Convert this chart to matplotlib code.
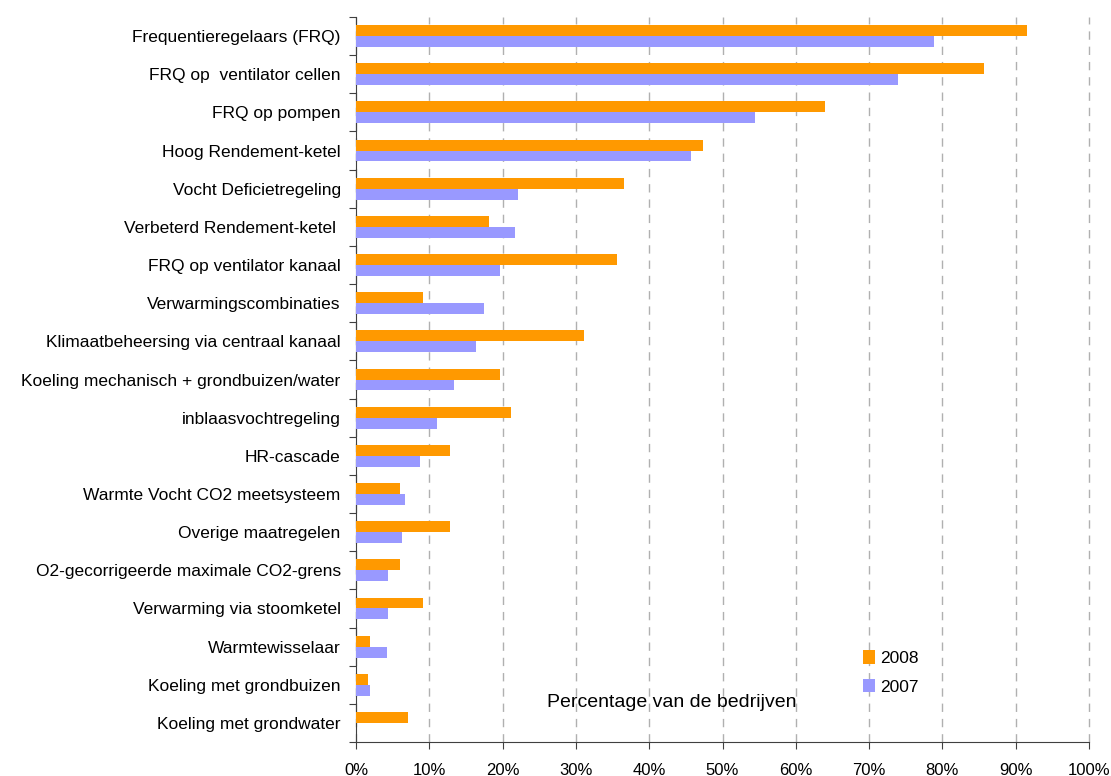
import numpy as np
import matplotlib
matplotlib.use("Agg")
import matplotlib.pyplot as plt
from matplotlib.ticker import FixedLocator, PercentFormatter

plt.rcParams['font.family'] = ['Liberation Sans', 'DejaVu Sans']

categories = [
    "Frequentieregelaars (FRQ)",
    "FRQ op  ventilator cellen",
    "FRQ op pompen",
    "Hoog Rendement-ketel",
    "Vocht Deficietregeling",
    "Verbeterd Rendement-ketel ",
    "FRQ op ventilator kanaal",
    "Verwarmingscombinaties",
    "Klimaatbeheersing via centraal kanaal",
    "Koeling mechanisch + grondbuizen/water",
    "inblaasvochtregeling",
    "HR-cascade",
    "Warmte Vocht CO2 meetsysteem",
    "Overige maatregelen",
    "O2-gecorrigeerde maximale CO2-grens",
    "Verwarming via stoomketel",
    "Warmtewisselaar",
    "Koeling met grondbuizen",
    "Koeling met grondwater",
]
pct_2008 = [91.5, 85.7, 64.0, 47.4, 36.5, 18.2, 35.6, 9.1, 31.1, 19.6,
            21.2, 12.8, 6.0, 12.8, 6.0, 9.1, 1.9, 1.7, 7.1]
pct_2007 = [78.9, 74.0, 54.4, 45.7, 22.1, 21.7, 19.6, 17.4, 16.4, 13.4,
            11.0, 8.7, 6.7, 6.3, 4.4, 4.4, 4.2, 1.9, 0.0]

fig = plt.figure(figsize=(11.11, 7.76), dpi=100)
ax = fig.add_axes([356 / 1111, 1 - 742 / 776, 733 / 1111, 725 / 776])

y = np.arange(len(categories))
h = 1 / 3.5
ax.barh(y - h / 2, pct_2008, height=h, color='#FF9900', label='2008', zorder=3)
ax.barh(y + h / 2, pct_2007, height=h, color='#9999FF', label='2007', zorder=3)

ax.set_xlim(0, 100)
ax.set_ylim(len(categories) - 0.5, -0.5)

ax.xaxis.set_major_locator(FixedLocator(np.arange(0, 101, 10)))
ax.xaxis.set_major_formatter(PercentFormatter(decimals=0))
ax.grid(axis='x', color='#b0b0b0', linestyle=(0, (6, 5)), linewidth=1, zorder=0)
for gl in ax.get_xgridlines():
    gl.set_clip_on(False)

# category boundaries as tick marks, labels at the centers
ax.yaxis.set_major_locator(FixedLocator(np.arange(-0.5, len(categories), 1)))
ax.yaxis.set_major_formatter(plt.NullFormatter())
ax.yaxis.set_minor_locator(FixedLocator(y))
ax.set_yticklabels(categories, minor=True)
ax.tick_params(axis='y', which='minor', length=0, pad=11, labelsize=12.5)
ax.tick_params(axis='y', which='major', length=5, direction='out', color='#404040')
ax.tick_params(axis='x', length=5, direction='out', color='#404040', labelsize=12, pad=10)

for s in ['top', 'right']:
    ax.spines[s].set_visible(False)
ax.spines['left'].set_color('#404040')
ax.spines['bottom'].set_color('#404040')

ax.text(0.431, 0.054, "Percentage van de bedrijven", transform=ax.transAxes,
        ha='center', va='center', fontsize=14)

ax.legend(loc='upper left', bbox_to_anchor=(0.67, 0.148), frameon=False,
          handlelength=0.7, handleheight=0.8, handletextpad=0.3,
          labelspacing=0.75, fontsize=12.5)

fig.savefig("out.png", dpi=100)
